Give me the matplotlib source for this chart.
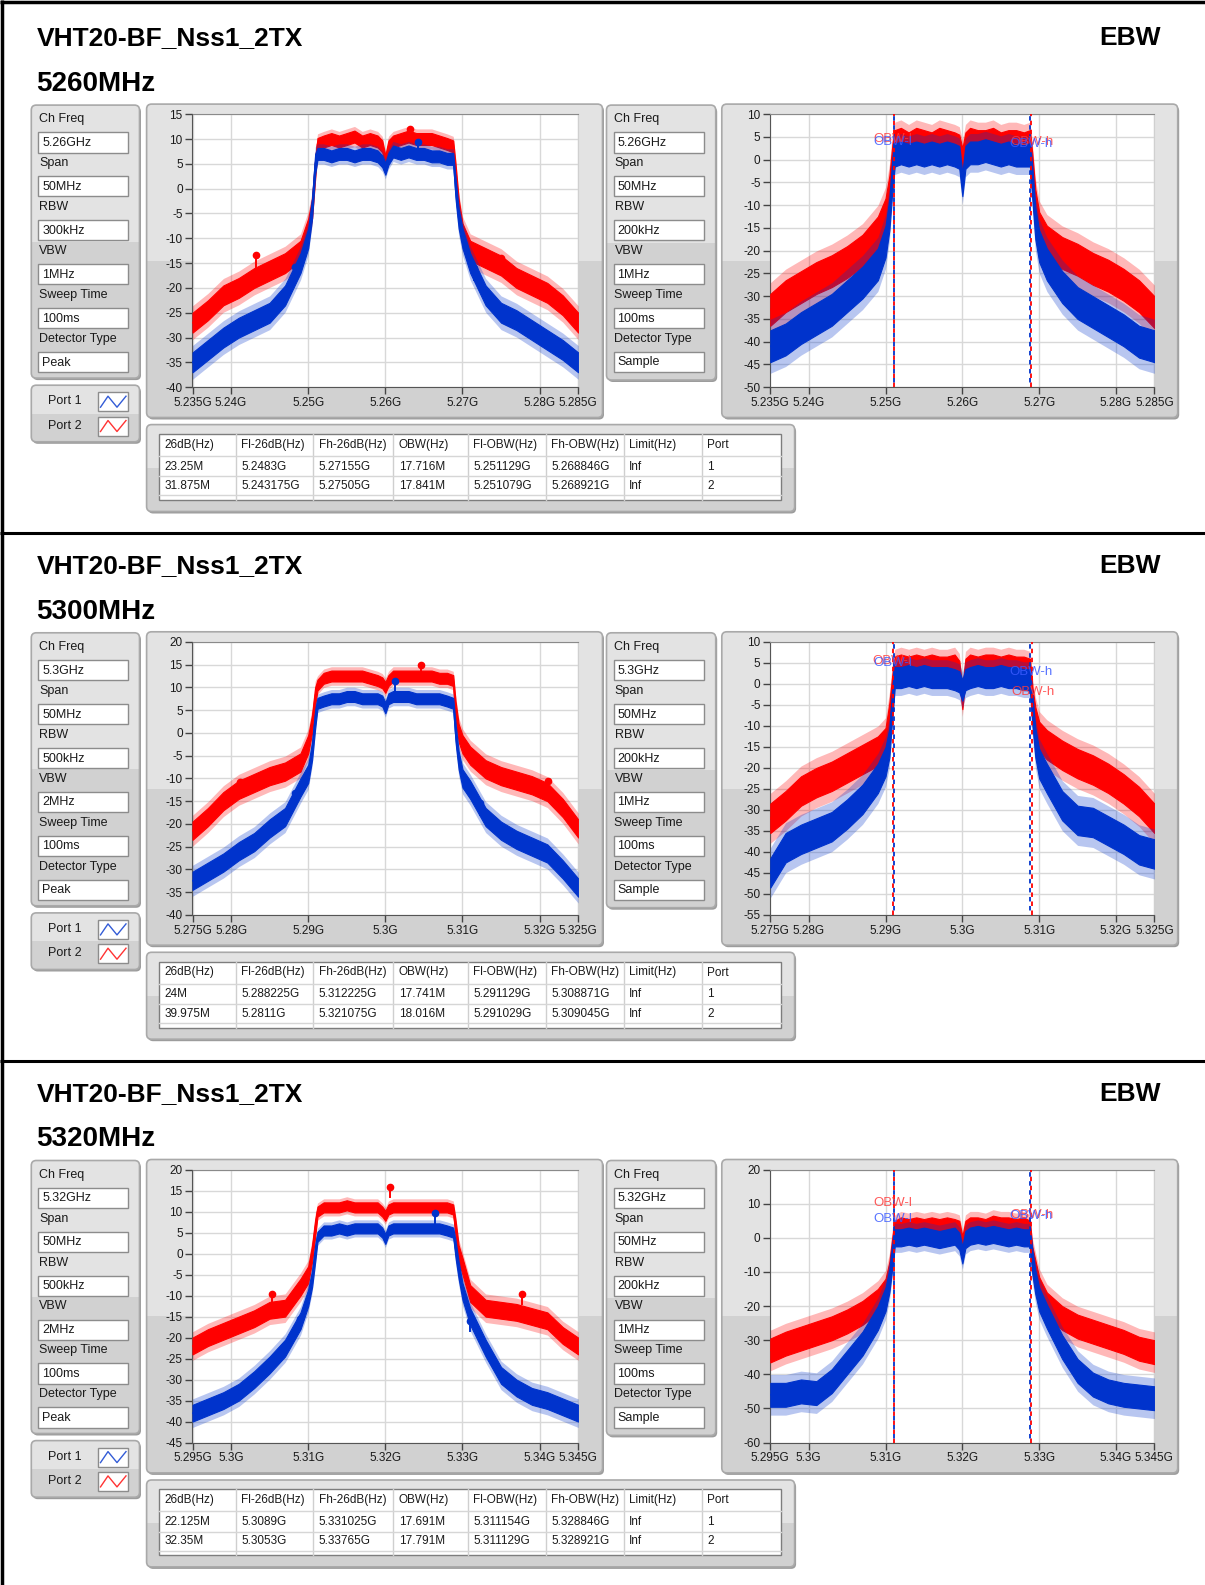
import numpy as np
import matplotlib
matplotlib.use('Agg')
import matplotlib.pyplot as plt
from matplotlib.patches import FancyBboxPatch, Rectangle
from matplotlib.lines import Line2D

# ---------------- data ----------------
TITLE = "VHT20-BF_Nss1_2TX"
RIGHT_TITLE = "EBW"
CENTERS = [5260, 5300, 5320]                       # MHz
SUBTITLES = ["5260MHz", "5300MHz", "5320MHz"]
PARAM_NAMES = ["Ch Freq", "Span", "RBW", "VBW", "Sweep Time", "Detector Type"]
PARAMS_LEFT = [["5.26GHz", "50MHz", "300kHz", "1MHz", "100ms", "Peak"],
               ["5.3GHz", "50MHz", "500kHz", "2MHz", "100ms", "Peak"],
               ["5.32GHz", "50MHz", "500kHz", "2MHz", "100ms", "Peak"]]
PARAMS_RIGHT = [["5.26GHz", "50MHz", "200kHz", "1MHz", "100ms", "Sample"],
                ["5.3GHz", "50MHz", "200kHz", "1MHz", "100ms", "Sample"],
                ["5.32GHz", "50MHz", "200kHz", "1MHz", "100ms", "Sample"]]
PORTS = ["Port 1", "Port 2"]
YLIM_LEFT = [(-40, 15), (-40, 20), (-45, 20)]
YSTEP_LEFT = [5, 5, 5]
YLIM_RIGHT = [(-50, 10), (-55, 10), (-60, 20)]
YSTEP_RIGHT = [5, 5, 10]

TABLE_HEAD = ["26dB(Hz)", "Fl-26dB(Hz)", "Fh-26dB(Hz)", "OBW(Hz)", "Fl-OBW(Hz)",
              "Fh-OBW(Hz)", "Limit(Hz)", "Port"]
TABLE_ROWS = [
    [["23.25M", "5.2483G", "5.27155G", "17.716M", "5.251129G", "5.268846G", "Inf", "1"],
     ["31.875M", "5.243175G", "5.27505G", "17.841M", "5.251079G", "5.268921G", "Inf", "2"]],
    [["24M", "5.288225G", "5.312225G", "17.741M", "5.291129G", "5.308871G", "Inf", "1"],
     ["39.975M", "5.2811G", "5.321075G", "18.016M", "5.291029G", "5.309045G", "Inf", "2"]],
    [["22.125M", "5.3089G", "5.331025G", "17.691M", "5.311154G", "5.328846G", "Inf", "1"],
     ["32.35M", "5.3053G", "5.33765G", "17.791M", "5.311129G", "5.328921G", "Inf", "2"]],
]

# frequency offsets from channel centre (MHz) where the traces were read
OFF = [-25, -23, -21, -19, -17, -15, -13, -11, -10, -9.5, -9.1, -8.8,
       -8, -7, -6, -5, -4, -3, -2, -1, -0.4, 0, 0.4,
       1, 2, 3, 4, 5, 6, 7, 8, 8.8, 9.1, 9.5, 10,
       11, 13, 15, 17, 19, 21, 23, 25]

# dB levels (trace centre) - port 1 blue, port 2 red
S1_LEFT_P2 = [-27, -24.5, -21.5, -20, -18, -16.5, -15, -12.5, -8, -4, 4, 9,
              9.5, 10, 9.5, 10, 10.5, 9.5, 10, 9.5, 8.5, 5.5, 8.5,
              9.5, 10, 10.5, 10, 10, 10, 9.5, 9, 8.5, 3, -4, -9,
              -12.5, -14, -15.5, -18, -19.5, -21, -23.5, -27]
S1_LEFT_P1 = [-35, -32.5, -30, -28, -26.5, -25, -21.5, -15, -10, -4, 5, 7,
              7, 6.5, 7, 7, 6.5, 7, 7, 6.5, 5.5, 4, 6,
              7.5, 7, 7.5, 7, 7, 6.5, 6.5, 6, 6, 0, -6, -10,
              -15, -21.5, -25, -26.5, -28.5, -30.5, -32.5, -35]
S1_RIGHT_P2 = [-33, -30, -28, -26, -24.5, -22.5, -20, -16, -12, -7, 0, 4,
               4.5, 3.5, 4.5, 4, 3.5, 4.5, 4, 3.5, 3, 0, 3.5,
               4.5, 4, 4, 4.5, 3.5, 4, 4, 3.5, 4, -2, -10, -15,
               -18, -20.5, -22, -24, -25.5, -27.5, -30, -33.5]
S1_RIGHT_P1 = [-41, -39.5, -37, -35, -33, -30, -27, -23, -18, -12, -3, 1,
               1.5, 1, 1.5, 1, 1.5, 1, 1.5, 1, 0.5, -5.5, 0.5,
               1.5, 1.5, 2, 1.5, 1, 1.5, 1, 1, 1, -5, -14, -19,
               -23, -28, -31.5, -33.5, -35.5, -37.5, -40, -41]
S2_LEFT_P2 = [-21.5, -18.5, -15, -12.5, -11, -9.5, -8.5, -6.5, -2.5, 2, 8, 10.5,
              12, 12.5, 12.5, 12.5, 12.5, 12.5, 12, 11.5, 11, 10, 11.5,
              12.5, 12.5, 12.5, 12.5, 12.5, 12.5, 12, 12, 11.5, 5, 0, -2.5,
              -5, -8, -9.5, -10.5, -11.5, -13, -16.5, -21]
S2_LEFT_P1 = [-32.5, -30.5, -28.5, -26, -24, -21, -18.5, -12, -9, -4, 3, 6.5,
              7, 7.5, 7.5, 8, 8, 7.5, 7.5, 7.5, 7, 5.5, 7.5,
              8, 8, 8, 7.5, 7.5, 7.5, 7.5, 7, 6.5, 0, -6, -10,
              -12.5, -18.5, -21.5, -23.5, -25, -26.5, -30, -34]
S2_RIGHT_P2 = [-32, -29, -25.5, -23.5, -22, -20, -18, -16, -14, -8, -1, 4,
               4.5, 4, 4.5, 4, 4.5, 4, 4, 4.5, 3, -3.5, 3.5,
               4.5, 4, 4.5, 4.5, 4, 4.5, 4, 4, 3.5, -4, -9, -12.5,
               -14.5, -17, -19, -20.5, -22.5, -25, -28, -32]
S2_RIGHT_P1 = [-45, -39, -37, -35.5, -34, -31, -27.5, -22.5, -18.5, -14, -4, 1.5,
               1.5, 2, 1.5, 2, 1.5, 1.5, 1.5, 1, 0.5, -1.5, 1,
               1.5, 2, 1.5, 1.5, 2, 1.5, 1.5, 1, 1, -6, -14, -19,
               -22.5, -29, -32.5, -33, -35, -37, -39.5, -40.5]
S3_LEFT_P2 = [-22, -20, -18.5, -17, -15.5, -13.5, -13, -8, -5, 0, 6, 10,
              11, 11, 11, 11.5, 11, 11, 11, 11, 10, 9, 10.5,
              11, 11, 11, 11, 11, 11, 11, 11, 10.5, 6, 0, -3,
              -9.5, -13, -13.5, -14, -15, -16, -19.5, -22]
S3_LEFT_P1 = [-38, -36.5, -35, -33, -30, -26.5, -22.5, -16, -10.5, -6, 0, 4,
              5.5, 5.5, 6, 5.5, 6, 6, 6, 6, 5, 3.5, 5.5,
              6, 6, 6, 6, 6, 6, 6, 5.5, 5, 1, -4, -9,
              -15, -22.5, -29, -32, -34, -35, -36.5, -38]
S3_RIGHT_P2 = [-33, -31, -29.5, -28, -26.5, -24.5, -22, -18.5, -15.5, -10.5, -3, 2.5,
               3.5, 3, 3.5, 3, 3.5, 3, 3.5, 3, 2.5, -2, 2.5,
               3.5, 3.5, 3, 4, 3.5, 3.5, 3, 3.5, 2.5, -6, -10, -15,
               -19.5, -23.5, -26, -27.5, -29, -30.5, -32.5, -33.5]
S3_RIGHT_P1 = [-46, -46, -45, -45.5, -42, -36.5, -31, -23.5, -18, -12.5, -5, 0,
               0, 0.5, 0, 0.5, 0, -0.5, 0, 0.5, -1, -5, -0.5,
               0.5, 1, 0.5, 1, 0.5, 0, 0.5, 0, 0, -7, -13, -18,
               -23, -32, -39, -43, -45, -46, -46.5, -47]

# peak markers (offset MHz, dB) and 26 dB-point marker levels (dB) on left plots
PEAK_P1 = [(4.2, 9.4), (1.2, 11.3), (6.4, 9.7)]
PEAK_P2 = [(3.15, 12.0), (4.57, 15.0), (0.65, 15.9)]
M26_P1 = [(-15.7, -15.9), (-13.2, -15.5), (-15.6, -16.0)]
M26_P2 = [(-13.4, -14.0), (-10.7, -10.5), (-9.6, -9.6)]
# OBW label levels on right plots (dB): (l port2, l port1, h port2, h port1)
OBW_LABEL_Y = [(4.6, 3.8, 3.8, 3.4), (5.4, 5.0, -1.9, 2.8), (10.3, 5.6, 6.6, 6.4)]

LEFT_TRACES = [(S1_LEFT_P1, S1_LEFT_P2), (S2_LEFT_P1, S2_LEFT_P2), (S3_LEFT_P1, S3_LEFT_P2)]
RIGHT_TRACES = [(S1_RIGHT_P1, S1_RIGHT_P2), (S2_RIGHT_P1, S2_RIGHT_P2), (S3_RIGHT_P1, S3_RIGHT_P2)]

# ---------------- style ----------------
W, H = 1205, 1585
SEC_DY = 527.7
RED = '#ff0000'
BLUE = '#0033cc'
PANEL_LIGHT = '#e3e3e3'
PANEL_DARK = '#d1d1d1'
TXT = '#1a1a1a'
SMALL = 8.5

plt.rcParams['font.family'] = ['Liberation Sans', 'DejaVu Sans']
fig = plt.figure(figsize=(W / 100, H / 100), dpi=100)
fig.patch.set_facecolor('white')
bg = fig.add_axes([0, 0, 1, 1])
bg.set_xlim(0, W)
bg.set_ylim(H, 0)
bg.axis('off')


def to_fig(x0, y0, x1, y1):
    return [x0 / W, 1 - y1 / H, (x1 - x0) / W, (y1 - y0) / H]


def panel(x0, y0, x1, y1, r=5):
    w, h = x1 - x0, y1 - y0
    bs = f"round,pad=0,rounding_size={r}"
    bg.add_patch(FancyBboxPatch((x0 + 1.5, y0 + 2), w, h, boxstyle=bs,
                                fc='#9c9c9c', ec='none', zorder=1))
    p = FancyBboxPatch((x0, y0), w, h, boxstyle=bs, fc=PANEL_LIGHT,
                       ec='none', zorder=2)
    bg.add_patch(p)
    low = Rectangle((x0, y0 + h / 2), w, h / 2, fc=PANEL_DARK, ec='none', zorder=2.1)
    bg.add_patch(low)
    low.set_clip_path(p)
    bg.add_patch(FancyBboxPatch((x0, y0), w, h, boxstyle=bs, fc='none',
                                ec='#a9a9a9', lw=1.2, zorder=2.2))


def field_box(x0, y0, x1, y1, text):
    bg.add_patch(Rectangle((x0, y0), x1 - x0, y1 - y0, fc='white',
                           ec='#8c8c8c', lw=1, zorder=3))
    bg.text(x0 + 4, (y0 + y1) / 2 + 0.5, text, fontsize=9, color=TXT,
            ha='left', va='center', zorder=4)


def param_panel(x0, y0, x1, y1, values):
    panel(x0, y0, x1, y1)
    for i, (name, val) in enumerate(zip(PARAM_NAMES, values)):
        ly = y0 + 14.2 + i * 43.9
        bg.text(x0 + 8, ly, name, fontsize=9, color=TXT, ha='left', va='center', zorder=4)
        by = y0 + 27.3 + i * 43.9
        field_box(x0 + 7, by, x0 + 97, by + 20.2, val)


def graph(rect, center, traces, ylim, ystep, spreads, kind, k):
    ax = fig.add_axes(to_fig(*rect), zorder=5)
    ax.set_facecolor('white')
    ax.set_xlim(center - 25, center + 25)
    ax.set_ylim(*ylim)
    xt = [center - 25, center - 20, center - 10, center, center + 10, center + 20, center + 25]
    ax.set_xticks(xt)
    ax.set_xticklabels([f"{v / 1000:g}G" for v in xt])
    yt = np.arange(ylim[0], ylim[1] + 0.01, ystep)
    ax.set_yticks(yt)
    ax.set_yticklabels([f"{int(v)}" for v in yt])
    ax.grid(True, color='#d8d8d8', lw=1)
    ax.set_axisbelow(True)
    ax.tick_params(direction='out', length=5, width=1, color='#444444',
                   labelsize=SMALL, labelcolor=TXT, pad=2)
    ax.spines['left'].set_color('#555555')
    ax.spines['bottom'].set_color('#555555')
    ax.spines['top'].set_color('#8a8a8a')
    ax.spines['right'].set_color('#d0d0d0')
    off = np.array(OFF)
    x = center + off
    s_in, s_out = spreads
    spread = np.where(np.abs(off) < 8.9, s_in, s_out)
    p1, p2 = traces
    for vals, col in ((p2, RED), (p1, BLUE)):
        v = np.array(vals, dtype=float)
        # faint fringe of the noisy trace, then the dense core
        ax.fill_between(x, v - 1.7 * spread, v + 1.7 * spread, color=col, lw=0,
                        alpha=0.28, zorder=3)
        ax.fill_between(x, v - spread, v + spread, color=col, lw=0.8, ec=col, zorder=3)
        ax.plot(x, v, color=col, lw=1, zorder=3)
    rows = TABLE_ROWS[k]
    if kind == 'left':
        for (pk, m26, row, col) in ((PEAK_P2[k], M26_P2[k], rows[1], RED),
                                    (PEAK_P1[k], M26_P1[k], rows[0], BLUE)):
            fl = float(row[1][:-1]) * 1000
            fh = float(row[2][:-1]) * 1000
            pts = [(center + pk[0], pk[1]), (fl, m26[0]), (fh, m26[1])]
            for (mx, my) in pts:
                ax.plot([mx, mx], [my - 2.5, my], color=col, lw=1.4, zorder=4)
                ax.plot([mx], [my], 'o', color=col, ms=4.5, zorder=4)
    else:
        ly = OBW_LABEL_Y[k]
        fl2 = float(rows[1][4][:-1]) * 1000
        fh2 = float(rows[1][5][:-1]) * 1000
        fl1 = float(rows[0][4][:-1]) * 1000
        fh1 = float(rows[0][5][:-1]) * 1000
        for xv in (fl2, fh2):
            ax.axvline(xv, color=RED, lw=1.3, ls=(0, (2.5, 2.5)), zorder=4)
        for xv in (fl1, fh1):
            ax.axvline(xv, color=BLUE, lw=1.3, ls=(2.5, (2.5, 2.5)), zorder=4)
        for (xv, yv, txt, col) in ((fl2, ly[0], "OBW-l", '#ff3b3b'),
                                   (fl1, ly[1], "OBW-l", '#3b5bff'),
                                   (fh2, ly[2], "OBW-h", '#ff3b3b'),
                                   (fh1, ly[3], "OBW-h", '#3b5bff')):
            ax.annotate(txt, xy=(xv, yv), xytext=(-15, 0), textcoords='offset points',
                        ha='left', va='center', fontsize=9.5, color=col, alpha=0.85,
                        zorder=6)
    return ax


# ---------------- frame ----------------
bg.plot([2, 2], [0, H], color='black', lw=2.5, zorder=10, solid_capstyle='butt')
bg.plot([0, W], [1.5, 1.5], color='black', lw=2.5, zorder=10, solid_capstyle='butt')
for sy in (533, 1060.5):
    bg.plot([0, W], [sy, sy], color='black', lw=2.2, zorder=10, solid_capstyle='butt')

# ---------------- sections ----------------
for k in range(3):
    dy = k * SEC_DY
    bg.text(36.4, 38.4 + dy, TITLE, fontsize=19, fontweight='bold', color='black',
            ha='left', va='center')
    bg.text(1160.5, 38.4 + dy, RIGHT_TITLE, fontsize=19, fontweight='bold', color='black',
            ha='right', va='center')
    bg.text(36.4, 83.9 + dy, SUBTITLES[k], fontsize=20, fontweight='bold', color='black',
            ha='left', va='center')

    param_panel(31.3, 105.1 + dy, 139.5, 378.1 + dy, PARAMS_LEFT[k])
    param_panel(606.5, 105.1 + dy, 715.7, 380.0 + dy, PARAMS_RIGHT[k])

    # legend
    panel(31.3, 385.2 + dy, 139.5, 441.8 + dy)
    for i, (name, col) in enumerate(zip(PORTS, (BLUE, RED))):
        ty = 401.3 + dy + i * 24.3
        bg.text(47.5, ty, name, fontsize=9, color=TXT, ha='left', va='center', zorder=4)
        iy0 = 392.2 + dy + i * 24.3
        bg.add_patch(Rectangle((98, iy0), 30.4, 19.2, fc='white', ec='#8c8c8c', lw=1, zorder=3))
        zx = [100.5, 108, 117, 126]
        zy = [iy0 + 15, iy0 + 4, iy0 + 15, iy0 + 4]
        bg.add_line(Line2D(zx, zy, color=col, lw=1, alpha=0.8, zorder=4))

    # graph panels
    panel(146.6, 104.1 + dy, 602.5, 417.5 + dy)
    panel(721.8, 104.1 + dy, 1177.7, 417.5 + dy)
    graph((192.5, 114.2 + dy, 578.2, 387.2 + dy), CENTERS[k], LEFT_TRACES[k],
          YLIM_LEFT[k], YSTEP_LEFT[k], (1.2, 2.0), 'left', k)
    graph((770.3, 114.2 + dy, 1154.4, 387.2 + dy), CENTERS[k], RIGHT_TRACES[k],
          YLIM_RIGHT[k], YSTEP_RIGHT[k], (2.5, 3.5), 'right', k)

    # table
    panel(146.6, 424.6 + dy, 794.6, 511.5 + dy)
    tx0, ty0, tx1, ty1 = 158.7, 434 + dy, 781.4, 500 + dy
    bg.add_patch(Rectangle((tx0, ty0), tx1 - tx0, ty1 - ty0, fc='white', ec='#7d7d7d',
                           lw=1, zorder=3))
    colx = [158.7, 235.5, 313.4, 393.2, 468.0, 545.9, 623.7, 701.6, 781.4]
    for cx in colx[1:-1]:
        bg.plot([cx, cx], [ty0, ty1], color='#cfcfcf', lw=1, zorder=3.5)
    for ry in (455.9, 476.1, 495.3):
        bg.plot([tx0, tx1], [ry + dy, ry + dy], color='#d6d6d6', lw=1, zorder=3.5)
    for c, head in enumerate(TABLE_HEAD):
        bg.text(colx[c] + 5.5, 444.8 + dy, head, fontsize=SMALL, color=TXT,
                ha='left', va='center', zorder=4)
        for r, row in enumerate(TABLE_ROWS[k]):
            bg.text(colx[c] + 5.5, 466.5 + dy + r * 19.5, row[c], fontsize=SMALL,
                    color=TXT, ha='left', va='center', zorder=4)

fig.savefig('out.png', dpi=100, facecolor='white')
